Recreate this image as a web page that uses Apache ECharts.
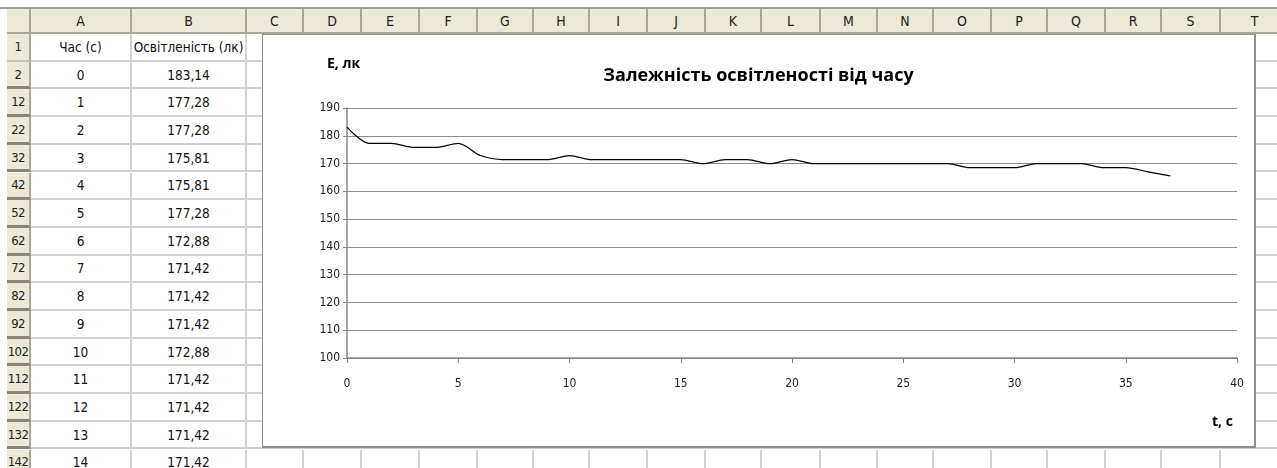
<!DOCTYPE html>
<html>
<head>
<meta charset="utf-8">
<script src="https://cdn.jsdelivr.net/npm/echarts@6/dist/echarts.min.js"></script>
<style>
  body { margin: 0; width: 1277px; height: 468px; overflow: hidden; background: #fff;
         font-family: "DejaVu Sans Condensed", "Liberation Sans Narrow", sans-serif; }
  .sheet { position: absolute; left: 0; top: 0; width: 1277px; height: 468px; }
  .hd { position: absolute; background: #ece9d8; color: #222; font-size: 14px; white-space: nowrap;
        display: flex; align-items: center; justify-content: center; box-sizing: border-box; }
  .rh { font-size: 13px; letter-spacing: -0.6px; }
  .cell { position: absolute; box-sizing: border-box; border-right: 2px solid #d2d2d2;
          border-bottom: 2px solid #d2d2d2; font-size: 13.5px; color: #111; white-space: nowrap;
          display: flex; align-items: center; justify-content: center; }
  #chart { position: absolute; left: 262px; top: 34px; width: 991px; height: 411px;
           background: #fff; border: 1px solid #8e8e8e; border-right-width: 2px; border-bottom-width: 2px; }
</style>
</head>
<body>
<div class="sheet" id="sheet"></div>
<div id="chart"></div>
<script>
// таблиця в аркуші
const colNames = ['A', 'B', 'C', 'D', 'E', 'F', 'G', 'H', 'I', 'J', 'K', 'L', 'M', 'N', 'O', 'P', 'Q', 'R', 'S', 'T']
const colEdges = [31, 132, 247, 304, 362, 420, 478, 534, 590, 648, 706, 762, 821, 878, 934, 992, 1048, 1106, 1162, 1221, 1290]
const rowLabels = [1, 2, 12, 22, 32, 42, 52, 62, 72, 82, 92, 102, 112, 122, 132, 142]
const headerRow = ['Час (с)', 'Освітленість (лк)']
const tableTime = [0, 1, 2, 3, 4, 5, 6, 7, 8, 9, 10, 11, 12, 13, 14]
const tableLux = ['183,14', '177,28', '177,28', '175,81', '175,81', '177,28', '172,88', '171,42',
  '171,42', '171,42', '172,88', '171,42', '171,42', '171,42', '171,42']

// дані графіка
const timeSec = [0, 1, 2, 3, 4, 5, 6, 7, 8, 9, 10, 11, 12, 13, 14, 15, 16, 17, 18, 19,
  20, 21, 22, 23, 24, 25, 26, 27, 28, 29, 30, 31, 32, 33, 34, 35, 36, 37]
const luxValues = [183.14, 177.28, 177.28, 175.81, 175.81, 177.28, 172.88, 171.42, 171.42, 171.42,
  172.88, 171.42, 171.42, 171.42, 171.42, 171.42, 169.96, 171.42, 171.42, 169.96,
  171.42, 169.96, 169.96, 169.96, 169.96, 169.96, 169.96, 169.96, 168.5, 168.5,
  168.5, 169.96, 169.96, 169.96, 168.5, 168.5, 167.03, 165.57]

const sheet = document.getElementById('sheet')
const ROW_H = 27.7
const TOP = 34
function add(cls, x, y, w, h, text, extra) {
  const d = document.createElement('div')
  d.className = cls
  d.style.left = x + 'px'; d.style.top = y + 'px'
  d.style.width = w + 'px'; d.style.height = h + 'px'
  if (text !== undefined) d.textContent = text
  if (extra) Object.assign(d.style, extra)
  sheet.appendChild(d)
}
// верхня смуга
add('hd', 0, 7, 1277, 2, undefined, { background: '#9d9d9d' })
// шапка колонок
add('hd', 7, 9, 24, 25, '', { borderRight: '2px solid #aca899', borderBottom: '2px solid #aca899' })
colNames.forEach((c, i) => {
  add('hd', colEdges[i], 9, colEdges[i + 1] - colEdges[i], 25, c,
    { borderRight: '2px solid #aca899', borderBottom: '2px solid #aca899' })
})
// рядки
rowLabels.forEach((r, i) => {
  const y = TOP + i * ROW_H
  add('hd rh', 7, y, 24, ROW_H, String(r), {
    borderRight: '2px solid #aca899',
    borderBottom: i >= 1 ? '3px solid #8a8778' : '2px solid #c9c6b5'
  })
  for (let c = 0; c < colNames.length; c++) {
    let txt = ''
    if (i === 0 && c < 2) txt = headerRow[c]
    if (i > 0 && c === 0) txt = String(tableTime[i - 1])
    if (i > 0 && c === 1) txt = tableLux[i - 1]
    add('cell', colEdges[c], y, colEdges[c + 1] - colEdges[c], ROW_H, txt)
  }
})

const chart = echarts.init(document.getElementById('chart'))
const fontAxis = '"DejaVu Sans Condensed", sans-serif'
const fontBold = '"Open Sans", "Noto Sans", sans-serif'
chart.setOption({
  animation: false,
  title: {
    text: 'Залежність освітленості від часу',
    left: 'center', top: 27,
    textStyle: { fontFamily: fontBold, fontSize: 18, fontWeight: 'bold', color: '#000' }
  },
  // підписи осей
  graphic: [
    { type: 'text', left: 64, top: 22, style: { text: 'E, лк', font: 'bold 14px ' + fontBold, fill: '#000' } },
    { type: 'text', left: 949, top: 380, style: { text: 't, c', font: 'bold 14px ' + fontBold, fill: '#000' } }
  ],
  grid: { left: 84, right: 17, top: 73, bottom: 88 },
  xAxis: {
    type: 'value', min: 0, max: 40, interval: 5,
    axisLine: { lineStyle: { color: '#868686', width: 1.5 } },
    axisTick: { show: true, inside: false, length: 5, lineStyle: { color: '#868686' } },
    axisLabel: { fontFamily: fontAxis, fontSize: 12, color: '#222', margin: 20 },
    splitLine: { show: false }
  },
  yAxis: {
    type: 'value', min: 100, max: 190, interval: 10,
    axisLine: { show: true, lineStyle: { color: '#868686', width: 1.5 } },
    axisTick: { show: true, length: 4, lineStyle: { color: '#868686' } },
    axisLabel: { fontFamily: fontAxis, fontSize: 12, color: '#222', margin: 7 },
    splitLine: { lineStyle: { color: '#8c8c8c', width: 1.2 } }
  },
  series: [{
    type: 'line',
    data: timeSec.map((t, i) => [t, luxValues[i]]),
    smooth: 0.3,
    showSymbol: false,
    lineStyle: { color: '#000', width: 1.2 }
  }]
})
</script>
</body>
</html>
